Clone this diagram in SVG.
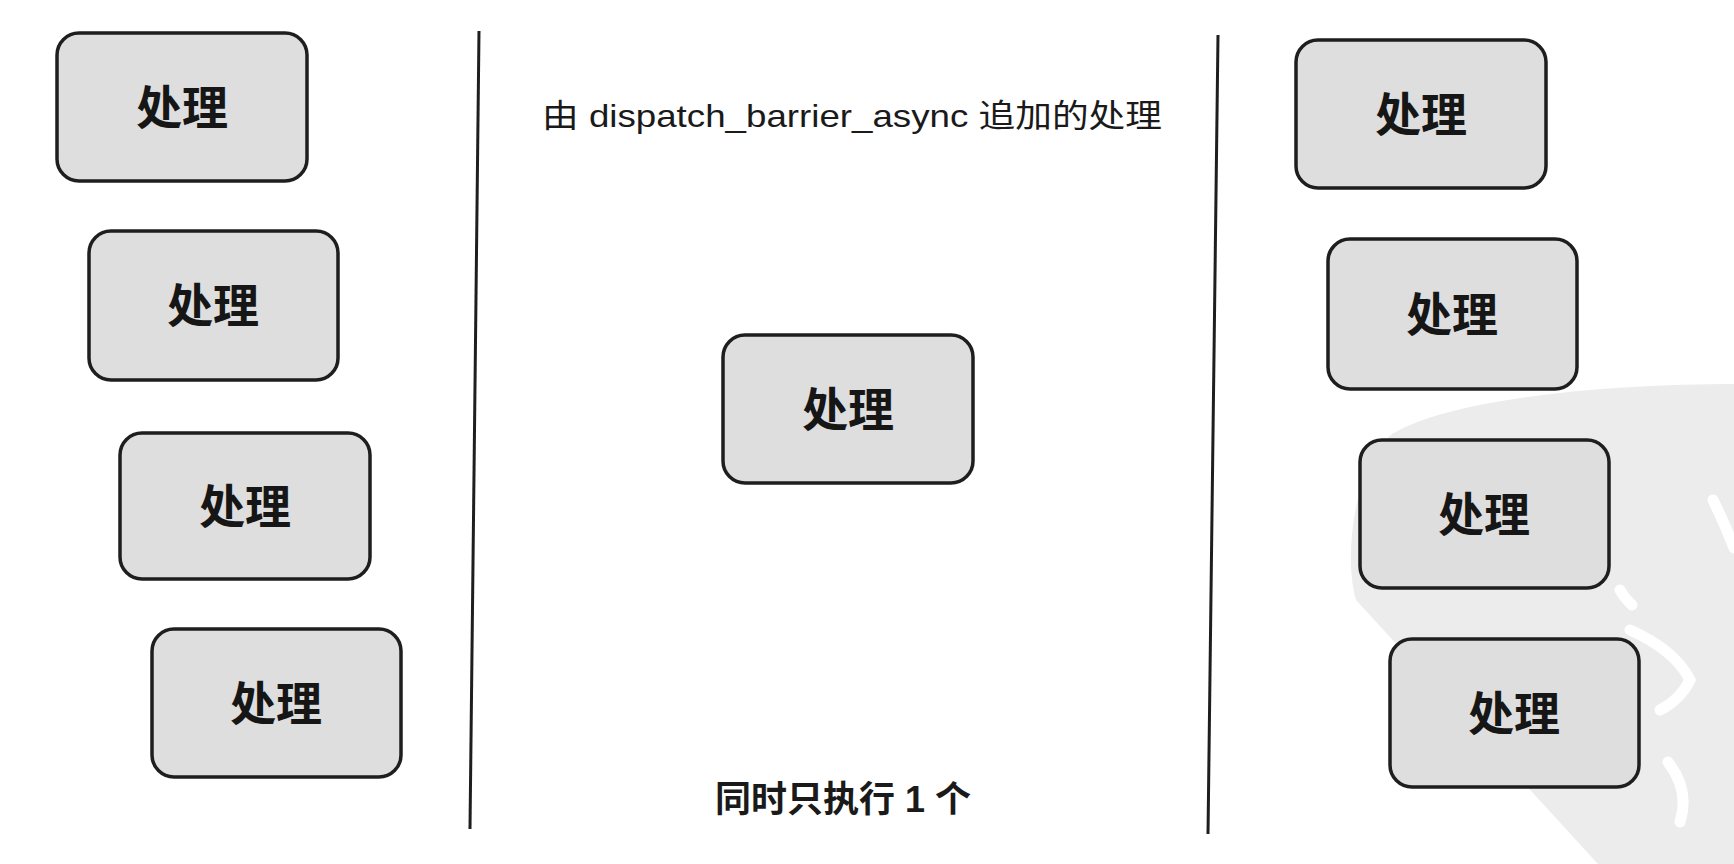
<svg xmlns="http://www.w3.org/2000/svg" width="1734" height="864" viewBox="0 0 1734 864">
  <defs>
    <style>
      .box { fill: #dedede; stroke: #1e1e1e; stroke-width: 3.5; }
      .lbl { font-family: "Noto Sans CJK SC", "Liberation Sans", sans-serif; font-size: 46px; font-weight: bold; fill: #161616; text-anchor: middle; }
      .div { stroke: #1e1e1e; stroke-width: 3; fill: none; }
      .cap { font-family: "Liberation Sans", "Noto Sans CJK SC", sans-serif; fill: #1a1a1a; }
      .wm { fill: none; stroke: #ffffff; stroke-width: 11; stroke-linecap: round; }
    </style>
  </defs>
  <rect x="0" y="0" width="1734" height="864" fill="#ffffff"/>

  <!-- background watermark shape -->
  <g id="watermark">
    <path d="M1734,384 C1610,384 1450,398 1392,434 C1352,470 1344,560 1356,600 L1598,864 L1734,864 Z" fill="#ececec"/>
    <path class="wm" d="M1713,500 Q1724,522 1734,548"/>
    <path class="wm" d="M1630,630 Q1675,650 1690,680 Q1680,700 1660,710"/>
    <path class="wm" d="M1668,762 Q1690,790 1680,822"/>
    <path class="wm" d="M1620,590 Q1626,600 1632,605"/>
  </g>

  <g id="connectors">
    <line class="div" x1="479" y1="31" x2="470" y2="829"/>
    <line class="div" x1="1218" y1="35" x2="1208" y2="834"/>
  </g>

  <g id="left1"><rect class="box" x="57" y="33" width="250" height="148" rx="22"/><text class="lbl" x="182" y="124">处理</text></g>
  <g id="left2"><rect class="box" x="89" y="231" width="249" height="149" rx="22"/><text class="lbl" x="213" y="322">处理</text></g>
  <g id="left3"><rect class="box" x="120" y="433" width="250" height="146" rx="22"/><text class="lbl" x="245" y="523">处理</text></g>
  <g id="left4"><rect class="box" x="152" y="629" width="249" height="148" rx="22"/><text class="lbl" x="276" y="720">处理</text></g>

  <g id="center"><rect class="box" x="723" y="335" width="250" height="148" rx="22"/><text class="lbl" x="848" y="426">处理</text></g>

  <g id="right1"><rect class="box" x="1296" y="40" width="250" height="148" rx="22"/><text class="lbl" x="1421" y="131">处理</text></g>
  <g id="right2"><rect class="box" x="1328" y="239" width="249" height="150" rx="22"/><text class="lbl" x="1452" y="331">处理</text></g>
  <g id="right3"><rect class="box" x="1360" y="440" width="249" height="148" rx="22"/><text class="lbl" x="1484" y="531">处理</text></g>
  <g id="right4"><rect class="box" x="1390" y="639" width="249" height="148" rx="22"/><text class="lbl" x="1514" y="730">处理</text></g>

  <g id="captions">
    <text class="cap" x="542" y="127" font-size="32" textLength="620" lengthAdjust="spacingAndGlyphs">由 dispatch_barrier_async 追加的处理</text>
    <text class="cap" x="715" y="812" font-size="36" font-weight="bold">同时只执行 1 个</text>
  </g>
</svg>
